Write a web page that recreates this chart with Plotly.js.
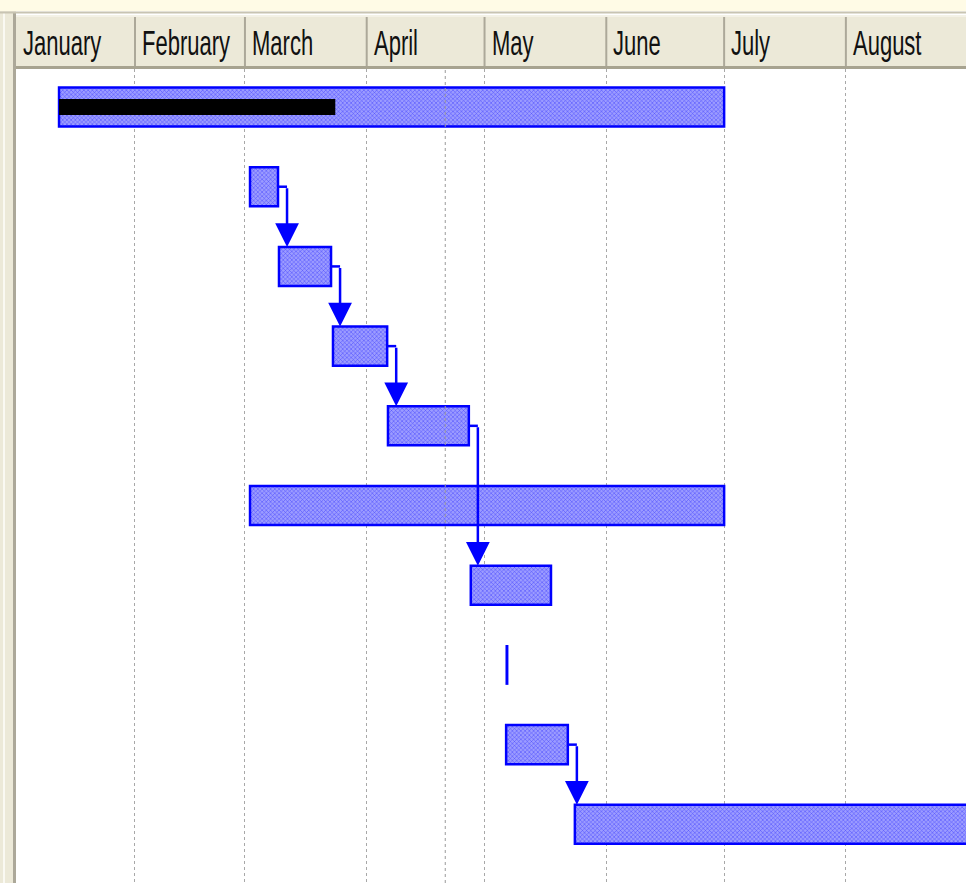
<!DOCTYPE html>
<html>
<head>
<meta charset="utf-8">
<script src="https://cdn.plot.ly/plotly-3.0.1.min.js"></script>
<style>html,body{margin:0;padding:0;background:#fff;}#chart{width:966px;height:883px;}</style>
</head>
<body>
<div id="chart"></div>
<script>
// ---------- data ----------
const months = ['January', 'February', 'March', 'April', 'May', 'June', 'July', 'August'];
const monthStarts = ['2007-01-01', '2007-02-01', '2007-03-01', '2007-04-01', '2007-05-01', '2007-06-01', '2007-07-01', '2007-08-01'];
const taskRows = [0, 1, 2, 3, 4, 5, 6, 8, 9];
const taskStart = ['2007-01-12 16:00', '2007-03-02 07:00', '2007-03-09 16:00', '2007-03-23 10:00', '2007-04-06 10:00', '2007-03-02 07:00', '2007-04-27 12:00', '2007-05-06 12:00', '2007-05-24 00:00'];
const taskEnd   = ['2007-07-01 00:00', '2007-03-09 10:00', '2007-03-22 22:00', '2007-04-06 05:00', '2007-04-27 00:00', '2007-07-01 00:00', '2007-05-17 22:00', '2007-05-22 05:00', '2007-09-15 00:00'];
const progressRow = 0;
const progressEnd = '2007-03-24 00:00';
const milestoneRow = 7;
const milestoneStart = '2007-05-06 08:00';
const milestoneEnd = '2007-05-07 02:00';
const depFrom = [1, 2, 3, 4, 8];
const depTo = [2, 3, 4, 6, 9];
const statusDate = '2007-04-21 00:00';
const viewStart = '2007-01-01 17:00';
const viewEnd = '2007-08-31 14:00';

// ---------- helpers ----------
function t(s) { const p = s.split(' '); return Date.parse(p[0] + 'T' + (p[1] || '00:00') + ':00Z'); }
function ds(ms) { return new Date(ms).toISOString().replace('T', ' ').slice(0, 19); }
const L = 16, R = 966, T = 69, B = 883, W = R - L, H = B - T;
const xp = px => (px - L) / W;
const yp = py => (B - py) / H;
const BLUE = '#0000ff';
const DAY = 86400000;

function rowEnd(r) { return taskEnd[taskRows.indexOf(r)]; }
function rowStart(r) { return taskStart[taskRows.indexOf(r)]; }

// ---------- traces ----------
const traces = [];
traces.push({
  type: 'bar', orientation: 'h',
  y: taskRows,
  base: taskStart,
  x: taskStart.map((s, i) => t(taskEnd[i]) - t(s)),
  width: taskRows.map(() => 0.49),
  marker: {
    color: '#8080ff',
    line: {color: BLUE, width: 2.5},
    pattern: {shape: 'x', fgcolor: '#4646ff', bgcolor: '#9c9cff', size: 3, solidity: 0.3}
  },
  hoverinfo: 'skip'
});
traces.push({
  type: 'bar', orientation: 'h',
  y: [progressRow],
  base: [rowStart(progressRow)],
  x: [t(progressEnd) - t(rowStart(progressRow))],
  width: [0.2],
  marker: {color: '#000000', line: {width: 0}},
  hoverinfo: 'skip'
});
traces.push({
  type: 'bar', orientation: 'h',
  y: [milestoneRow],
  base: [milestoneStart],
  x: [t(milestoneEnd) - t(milestoneStart)],
  width: [0.5],
  marker: {color: BLUE, line: {width: 0}},
  hoverinfo: 'skip'
});

// ---------- shapes ----------
const shapes = [];
shapes.push({type: 'rect', xref: 'paper', yref: 'paper', x0: xp(0), x1: xp(R), y0: yp(11), y1: yp(0), fillcolor: '#fffbe6', line: {width: 0}, layer: 'below'});
shapes.push({type: 'rect', xref: 'paper', yref: 'paper', x0: xp(0), x1: xp(L), y0: yp(B), y1: yp(11), fillcolor: '#ece9d8', line: {width: 0}});
shapes.push({type: 'line', xref: 'paper', yref: 'paper', x0: xp(4), x1: xp(4), y0: yp(B), y1: yp(12), line: {color: '#faf9f2', width: 2}});
shapes.push({type: 'line', xref: 'paper', yref: 'paper', x0: xp(14.5), x1: xp(14.5), y0: yp(B), y1: yp(12), line: {color: '#aca899', width: 3}});
shapes.push({type: 'rect', xref: 'paper', yref: 'paper', x0: xp(L), x1: xp(R), y0: yp(67), y1: yp(15), fillcolor: '#ece9d8', line: {width: 0}});
shapes.push({type: 'line', xref: 'paper', yref: 'paper', x0: xp(0), x1: xp(R), y0: yp(12.5), y1: yp(12.5), line: {color: '#c8c4b2', width: 2}});
shapes.push({type: 'line', xref: 'paper', yref: 'paper', x0: xp(L), x1: xp(R), y0: yp(16), y1: yp(16), line: {color: '#fbfaf4', width: 1}});
shapes.push({type: 'line', xref: 'paper', yref: 'paper', x0: xp(L), x1: xp(R), y0: yp(67.5), y1: yp(67.5), line: {color: '#a7a390', width: 3}});
monthStarts.forEach(m => {
  shapes.push({type: 'line', xref: 'x', yref: 'paper', x0: m, x1: m, y0: yp(66), y1: yp(17), line: {color: '#aca899', width: 2}});
});
shapes.push({type: 'line', xref: 'x', yref: 'paper', x0: statusDate, x1: statusDate, y0: 0, y1: 1, line: {color: '#9a9a9a', width: 1, dash: 'dot'}, layer: 'above'});
depFrom.forEach((f, i) => {
  const endMs = t(rowEnd(f));
  const cx = ds(endMs + 2.3 * DAY);
  shapes.push({type: 'line', xref: 'x', yref: 'y', x0: ds(endMs), x1: cx, y0: f, y1: f, line: {color: BLUE, width: 2.5}, layer: 'above'});
});

// ---------- annotations ----------
const annotations = [];
months.forEach((m, i) => {
  const xm = Math.max(t(monthStarts[i]), t(viewStart));
  annotations.push({
    xref: 'x', yref: 'paper', x: ds(xm), y: yp(43), xanchor: 'left', yanchor: 'middle',
    xshift: 5, text: m, showarrow: false,
    font: {family: '"Liberation Sans", Arial, sans-serif', size: 22, color: '#111111'}
  });
});
depFrom.forEach((f, i) => {
  const cx = ds(t(rowEnd(f)) + 2.3 * DAY);
  annotations.push({
    xref: 'x', yref: 'y', axref: 'x', ayref: 'y',
    x: cx, y: depTo[i] - 0.245, ax: cx, ay: f,
    showarrow: true, arrowhead: 2, arrowsize: 1.9, arrowwidth: 2.5, arrowcolor: BLUE, standoff: 0, text: ''
  });
});

const layout = {
  width: 966, height: 883,
  margin: {l: L, r: 966 - R, t: T, b: 883 - B, pad: 0},
  paper_bgcolor: '#ffffff', plot_bgcolor: '#ffffff',
  showlegend: false, barmode: 'overlay',
  xaxis: {
    type: 'date', range: [viewStart, viewEnd],
    tickvals: monthStarts, showticklabels: false, ticks: '',
    showgrid: true, gridcolor: '#a8a8a8', gridwidth: 1, griddash: 'dot',
    zeroline: false, showline: false, fixedrange: true
  },
  yaxis: {
    range: [9.736, -0.477], showticklabels: false, showgrid: false, zeroline: false,
    showline: false, ticks: '', fixedrange: true
  },
  shapes: shapes,
  annotations: annotations
};

Plotly.newPlot('chart', traces, layout, {displayModeBar: false, staticPlot: true}).then(() => {
  // the reference header text is tall and narrow: stretch the month labels vertically
  document.querySelectorAll('#chart g.annotation').forEach(g => {
    const idx = +g.getAttribute('data-index');
    if (idx < months.length) {
      const tx = g.querySelector('text.annotation-text');
      if (tx) {
        tx.style.transformBox = 'fill-box';
        tx.style.transformOrigin = 'center';
        tx.style.transform = 'scaleY(1.6)';
      }
    }
  });
});
</script>
</body>
</html>
